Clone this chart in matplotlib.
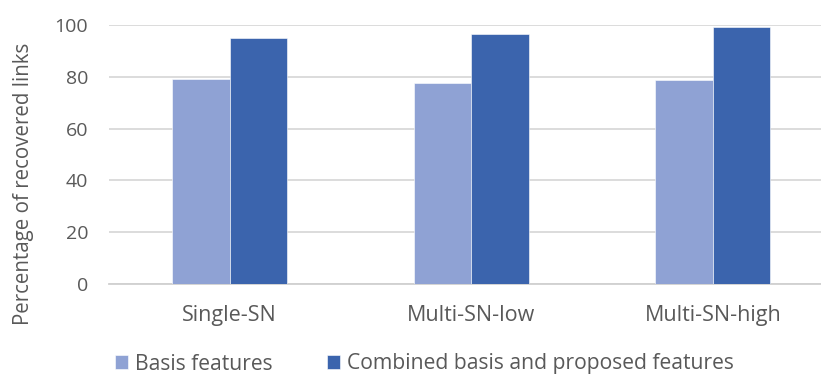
import matplotlib
matplotlib.use("Agg")
import matplotlib.pyplot as plt
import numpy as np

categories = ["Single-SN", "Multi-SN-low", "Multi-SN-high"]
basis = [79.1, 77.7, 78.8]
combined = [95.1, 96.7, 99.3]
series_names = ["Basis features", "Combined basis and proposed features"]
yticks = [0, 20, 40, 60, 80, 100]

plt.rcParams['font.family'] = ['Open Sans', 'DejaVu Sans']
text_color = "#595959"

fig = plt.figure(figsize=(8.21, 3.78), dpi=100)
ax = fig.add_axes([109 / 821, 94 / 378, (821 - 109) / 821, (284 - 25) / 378])

x = np.arange(len(categories))
w = 0.238
ax.bar(x - w / 2, basis, w, color="#8FA2D4", edgecolor="white", linewidth=0.4,
       label=series_names[0], zorder=3)
ax.bar(x + w / 2, combined, w, color="#3B64AD", edgecolor="white", linewidth=0.4,
       label=series_names[1], zorder=3)

ax.set_xlim(-0.5, (821 - 230) / 241.5)
ax.set_ylim(0, 100)
ax.set_yticks(yticks)
ax.set_xticks(x)
ax.set_xticklabels(categories)
ax.yaxis.grid(True, color="#d9d9d9", linewidth=1.3, zorder=0)
ax.set_axisbelow(True)
for s in ["top", "right", "left"]:
    ax.spines[s].set_visible(False)
ax.spines["bottom"].set_color("#d0d0d0")
ax.spines["bottom"].set_linewidth(1.3)
ax.tick_params(axis="both", length=0, colors=text_color)
ax.tick_params(axis="x", pad=15, labelsize=15.5)
ax.tick_params(axis="y", pad=15, labelsize=14)
for lbl in ax.get_xticklabels() + ax.get_yticklabels():
    lbl.set_color(text_color)

ax.set_ylabel("Percentage of recovered links", color=text_color, fontsize=14.8)
ax.yaxis.set_label_coords(-(109 - 34) / 712, (284 - 184) / 259)

leg = fig.legend(loc="center", bbox_to_anchor=(0.517, 14 / 378), ncol=2,
                 frameon=False, fontsize=15.2, handlelength=0.62, handleheight=0.62,
                 handletextpad=0.3, columnspacing=2.6, labelcolor=text_color)

fig.savefig("out.png", dpi=100)
